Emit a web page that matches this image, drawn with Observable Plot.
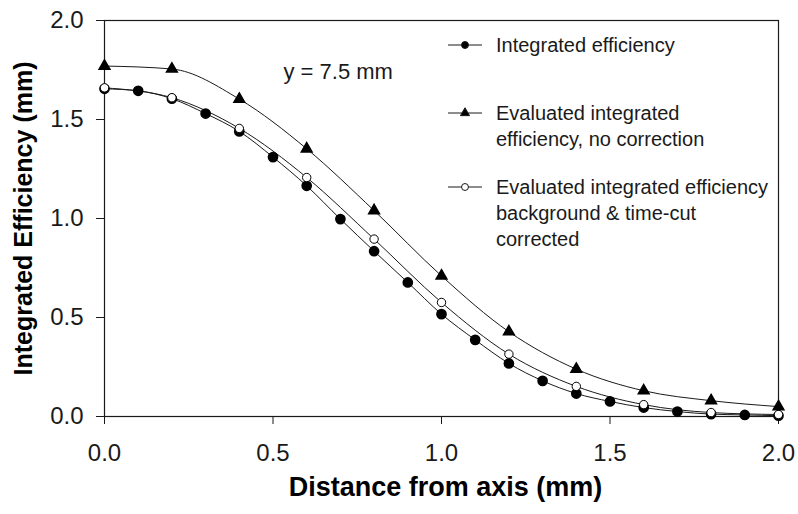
<!DOCTYPE html>
<html>
<head>
<meta charset="utf-8">
<script src="https://cdn.jsdelivr.net/npm/d3@7"></script>
<script src="https://cdn.jsdelivr.net/npm/@observablehq/plot@0.6"></script>
<style>
  html, body { margin: 0; padding: 0; background: #fff; }
  #chart { width: 798px; height: 514px; }
</style>
</head>
<body>
<div id="chart"></div>
<script>
// Distance from the axis (mm) at which each series was sampled
const distFine = [0.0, 0.1, 0.2, 0.3, 0.4, 0.5, 0.6, 0.7, 0.8, 0.9, 1.0,
                  1.1, 1.2, 1.3, 1.4, 1.5, 1.6, 1.7, 1.8, 1.9, 2.0];
const distCoarse = [0.0, 0.2, 0.4, 0.6, 0.8, 1.0, 1.2, 1.4, 1.6, 1.8, 2.0];

// Integrated efficiency (mm)
const integrated = [1.655, 1.645, 1.605, 1.53, 1.44, 1.31, 1.165, 0.997, 0.835, 0.677, 0.517,
                    0.387, 0.268, 0.18, 0.116, 0.076, 0.045, 0.025, 0.012, 0.008, 0.004];
// Evaluated integrated efficiency, no correction
const evalNoCorrection = [1.77, 1.755, 1.603, 1.352, 1.04, 0.71, 0.428, 0.239, 0.13, 0.08, 0.05];
// Evaluated integrated efficiency, background & time-cut corrected
const evalCorrected = [1.66, 1.61, 1.455, 1.207, 0.896, 0.576, 0.315, 0.152, 0.06, 0.02, 0.01];

const xTicks = [0, 0.5, 1.0, 1.5, 2.0];
const yTicks = [0, 0.5, 1.0, 1.5, 2.0];

const legendEntries = [
  {symbol: "circle", fill: "#000", lines: ["Integrated efficiency"]},
  {symbol: "triangle", fill: "#000", lines: ["Evaluated integrated", "efficiency, no correction"]},
  {symbol: "circle", fill: "#fff", lines: ["Evaluated integrated efficiency", "background & time-cut", "corrected"]}
];

const ink = "#1a1a1a";
const font = "Arial, 'Liberation Sans', Helvetica, sans-serif";

const rowsFine = distFine.map((d, i) => ({d, v: integrated[i]}));
const rowsNoCorr = distCoarse.map((d, i) => ({d, v: evalNoCorrection[i]}));
const rowsCorr = distCoarse.map((d, i) => ({d, v: evalCorrected[i]}));

// Legend drawn in the upper right of the plotting area
function legend() {
  const g = d3.create("svg:g").attr("font-family", font).attr("font-size", 20)
    .attr("text-anchor", "start");
  const x0 = 448, x1 = 482, tx = 496;
  const rowY = [45, 113, 187];
  const lineGap = 26;
  legendEntries.forEach((e, i) => {
    const y = rowY[i];
    g.append("line").attr("x1", x0).attr("x2", x1).attr("y1", y).attr("y2", y)
      .attr("stroke", ink).attr("stroke-width", 1);
    const sym = e.symbol === "triangle" ? d3.symbolTriangle : d3.symbolCircle;
    const size = e.symbol === "triangle" ? 36 : 38;
    g.append("path").attr("d", d3.symbol(sym, size)())
      .attr("transform", `translate(${(x0 + x1) / 2},${y})`)
      .attr("fill", e.fill).attr("stroke", ink).attr("stroke-width", 1);
    e.lines.forEach((t, j) => {
      g.append("text").attr("x", tx).attr("y", y + j * lineGap)
        .attr("text-anchor", "start")
        .attr("dominant-baseline", "central").attr("fill", ink).text(t);
    });
  });
  return g.node();
}

const chart = Plot.plot({
  width: 798,
  height: 514,
  marginLeft: 104,
  marginRight: 20,
  marginTop: 20,
  marginBottom: 98,
  style: {fontFamily: font, fontSize: "24px", color: ink, background: "#fff"},
  x: {domain: [0, 2], label: null},
  y: {domain: [0, 2], label: null},
  marks: [
    Plot.frame({stroke: ink, strokeWidth: 1.2}),
    Plot.axisX({ticks: xTicks, tickFormat: d3.format(".1f"), tickSize: 8, tickPadding: 19,
                fontSize: 24, stroke: ink, label: null}),
    Plot.axisY({ticks: yTicks, tickFormat: d3.format(".1f"), tickSize: 8, tickPadding: 13,
                fontSize: 24, stroke: ink, label: null}),

    Plot.line(rowsNoCorr, {x: "d", y: "v", curve: "monotone-x", stroke: ink, strokeWidth: 1}),
    Plot.line(rowsCorr, {x: "d", y: "v", curve: "monotone-x", stroke: ink, strokeWidth: 1}),
    Plot.line(rowsFine, {x: "d", y: "v", curve: "monotone-x", stroke: ink, strokeWidth: 1}),

    Plot.dot(rowsFine, {x: "d", y: "v", r: 4.6, fill: "#000", stroke: "#000", symbol: "circle"}),
    Plot.dot(rowsCorr, {x: "d", y: "v", r: 4.2, fill: "#fff", stroke: "#000", strokeWidth: 1, symbol: "circle"}),
    Plot.dot(rowsNoCorr, {x: "d", y: "v", r: 4, fill: "#000", stroke: "#000", symbol: "triangle"}),

    Plot.text(["y = 7.5 mm"], {text: d => d, frameAnchor: "top-left", dx: 179, dy: 43,
                              textAnchor: "start", fontSize: 22, fill: ink}),

    Plot.text(["Distance from axis (mm)"], {text: d => d, frameAnchor: "bottom", dx: 4, dy: 79,
                                           fontSize: 27, fontWeight: "bold", fill: "#000"}),
    Plot.text(["Integrated Efficiency (mm)"], {text: d => d, frameAnchor: "left", dx: -81, dy: 0,
                                              textAnchor: "middle", rotate: -90,
                                              fontSize: 25, fontWeight: "bold", fill: "#000"}),
    legend
  ]
});

document.getElementById("chart").appendChild(chart);
</script>
</body>
</html>
